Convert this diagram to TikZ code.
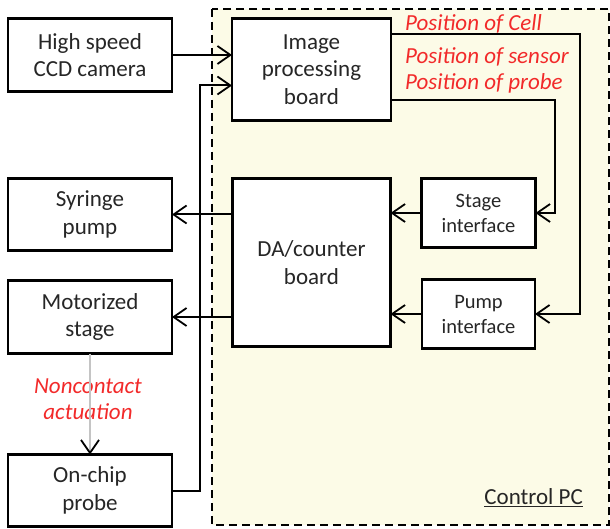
\documentclass[tikz,border=0pt]{standalone}
\usepackage{fontspec}
\setmainfont{Carlito}
\usetikzlibrary{arrows.meta,calc,positioning}
\definecolor{diagramText}{HTML}{262626}
\definecolor{diagramLine}{HTML}{000000}
\definecolor{pcFill}{HTML}{FCFBE7}
\definecolor{noteRed}{HTML}{F22A2A}
\definecolor{linkGray}{HTML}{C4C4C4}

\begin{document}
\begin{tikzpicture}[
  x=1pt, y=-1pt,
  >={Straight Barb[length=13pt,width=18pt,line width=1.8pt]},
  block/.style={
    draw=diagramLine,
    fill=white,
    text=diagramText,
    line width=2.2pt,
    outer sep=0pt,
    align=center,
    inner sep=2pt,
    font=\fontsize{23}{27.5}\selectfont
  },
  smallblock/.style={block, font=\fontsize{20.5}{25}\selectfont},
  note/.style={text=noteRed, font=\fontsize{23}{26.5}\selectfont\itshape, align=center, inner sep=0pt},
  flow/.style={->, draw=diagramLine, line width=2pt}
]
\useasboundingbox (0,0) rectangle (610,529);

% control PC frame
\draw[dashed, dash pattern=on 8pt off 5pt, line width=2.4pt, fill=pcFill] (212,9) rectangle (609,525);
\node[anchor=south east, text=diagramText, font=\fontsize{23}{27}\selectfont, inner sep=0pt] (pc-label) at (583,507) {\underline{Control PC}};

% outside devices
\node[block, minimum width=164pt, minimum height=73pt] (ccd) at (90,55) {High speed\\CCD camera};
\node[block, minimum width=164pt, minimum height=72pt, below=87pt of ccd] (syringe) {Syringe\\pump};
\node[block, minimum width=164pt, minimum height=73pt, below=30pt of syringe] (stage) {Motorized\\stage};
\node[block, minimum width=164pt, minimum height=72pt, below=101pt of stage] (probe) {On-chip\\probe};

% inside the PC
\node[block, minimum width=159pt, minimum height=102pt, right=60pt of ccd.north east, anchor=north west] (imgboard) {Image\\processing\\board};
\node[block, minimum width=158pt, minimum height=168pt, below=58pt of imgboard] (daboard) {DA/counter\\board};
\node[smallblock, minimum width=114pt, minimum height=69pt, right=31pt of daboard.north east, anchor=north west] (stageif) {Stage\\interface};
\node[smallblock, minimum width=113pt, minimum height=69pt, below=32pt of stageif] (pumpif) {Pump\\interface};

% signal labels
\node[note, anchor=west] (pos-cell) at (405,24) {Position of Cell};
\node[note, anchor=west] (pos-sensor) at (405,57) {Position of sensor};
\node[note, anchor=west] (pos-probe) at (405,83) {Position of probe};
\node[note] (actuation) at (88,399) {Noncontact\\actuation};

\coordinate (probe-up) at ($(probe.east)+(28,0)$);
\coordinate (img-in) at ($(imgboard.west)+(0,16)$);

\draw[flow] (ccd) -- (ccd -| imgboard.west);
\draw[flow] (probe.east) -- (probe-up) |- (img-in);
\draw[flow] (daboard.west |- syringe.east) -- (syringe.east);
\draw[flow] (daboard.west |- stage.east) -- (stage.east);
\draw[flow] (stageif.west) -- (stageif.west -| daboard.east);
\draw[flow] (pumpif.west) -- (pumpif.west -| daboard.east);
\draw[flow] ($(imgboard.east)+(0,-35)$) -| ($(pumpif.east)+(45,0)$) -- (pumpif.east);
\draw[flow] ($(imgboard.east)+(0,31)$) -| ($(stageif.east)+(19,0)$) -- (stageif.east);
\draw[->, draw=linkGray, line width=1.8pt, >={Straight Barb[length=13pt,width=18pt,line width=1.8pt,color=black]}] (stage.south) -- (probe.north);

\end{tikzpicture}
\end{document}
